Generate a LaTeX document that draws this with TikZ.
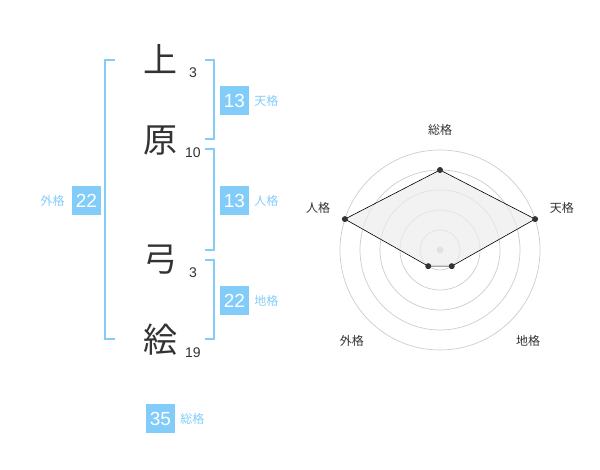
\documentclass[tikz,border=0pt]{standalone}
\usepackage{fontspec}
\setmainfont{Liberation Sans}
\newfontfamily\jpfont{Noto Sans CJK JP}
\usetikzlibrary{positioning, calc}
\definecolor{Kaku}{RGB}{130, 204, 250}
\definecolor{Ink}{RGB}{51, 51, 51}

\begin{document}
\begin{tikzpicture}[x=1pt, y=1pt,
    kanji/.style={font=\jpfont\fontsize{34}{34}\selectfont, text=Ink, inner sep=0pt},
    strokes/.style={font=\fontsize{14}{14}\selectfont, text=Ink, inner sep=0pt},
    kakubox/.style={fill=Kaku, text=white, minimum size=29pt, inner sep=0pt, font=\fontsize{19}{19}\selectfont},
    kakulabel/.style={font=\jpfont\fontsize{12}{12}\selectfont, text=Kaku, inner sep=0pt},
    bracket/.style={draw=Kaku, line width=2pt},
    axislabel/.style={font=\jpfont\fontsize{12}{12}\selectfont, text=Ink, inner sep=0pt},
    dot/.style={circle, fill=Ink, inner sep=0pt, minimum size=6pt}]
    \useasboundingbox (0,0) rectangle (600,470);

    % Name characters and stroke counts
    \node[kanji] (c1) at (160, 411) {上};
    \node[kanji] (c2) at (160, 329) {原};
    \node[kanji] (c3) at (160, 210) {弓};
    \node[kanji] (c4) at (160, 130) {絵};
    \node[strokes] (n1) at (193, 397) {3};
    \node[strokes] (n2) at (193, 317) {10};
    \node[strokes] (n3) at (193, 197) {3};
    \node[strokes] (n4) at (193, 117) {19};

    % Brackets
    \draw[bracket] (115, 410) -- (105, 410) -- (105, 131) -- (115, 131);
    \draw[bracket] (205, 410) -- (214, 410) -- (214, 331) -- (205, 331);
    \draw[bracket] (205, 321) -- (214, 321) -- (214, 220) -- (205, 220);
    \draw[bracket] (205, 210) -- (214, 210) -- (214, 131) -- (205, 131);

    % Fortune boxes
    \node[kakubox] (ten) at (234.5, 369.5) {13};
    \node[kakulabel, right=5pt of ten] (tenl) {天格};
    \node[kakubox] (jin) at (234.5, 269.5) {13};
    \node[kakulabel, right=5pt of jin] (jinl) {人格};
    \node[kakubox] (chi) at (234.5, 169.5) {22};
    \node[kakulabel, right=5pt of chi] (chil) {地格};
    \node[kakubox] (gai) at (86.5, 269.5) {22};
    \node[kakulabel, left=7pt of gai] (gail) {外格};
    \node[kakubox] (sou) at (160.5, 51) {35};
    \node[kakulabel, right=5pt of sou] (soul) {総格};

    % Radar chart
    \coordinate (ctr) at (440, 220);
    \foreach \r in {20, 40, 60, 80, 100}
        \draw[gray!40, line width=0.7pt] (ctr) circle (\r);
    \fill[gray!40] (ctr) circle (3.5);

    \coordinate (pSou) at ($(ctr)+(90:80)$);
    \coordinate (pTen) at ($(ctr)+(18:100)$);
    \coordinate (pChi) at ($(ctr)+(-54:20)$);
    \coordinate (pGai) at ($(ctr)+(-126:20)$);
    \coordinate (pJin) at ($(ctr)+(162:100)$);
    \draw[fill=gray!15, fill opacity=0.7, draw=black, line width=0.6pt]
        (pSou) -- (pTen) -- (pChi) -- (pGai) -- (pJin) -- cycle;
    \node[dot] at (pSou) {};
    \node[dot] at (pTen) {};
    \node[dot] at (pChi) {};
    \node[dot] at (pGai) {};
    \node[dot] at (pJin) {};

    \node[axislabel] (aSou) at ($(ctr)+(90:120)$) {総格};
    \node[axislabel] (aTen) at ($(ctr)+(19:129)$) {天格};
    \node[axislabel] (aChi) at ($(ctr)+(-46:127)$) {地格};
    \node[axislabel] (aGai) at ($(ctr)+(-134:127)$) {外格};
    \node[axislabel] (aJin) at ($(ctr)+(161:129)$) {人格};
\end{tikzpicture}
\end{document}
